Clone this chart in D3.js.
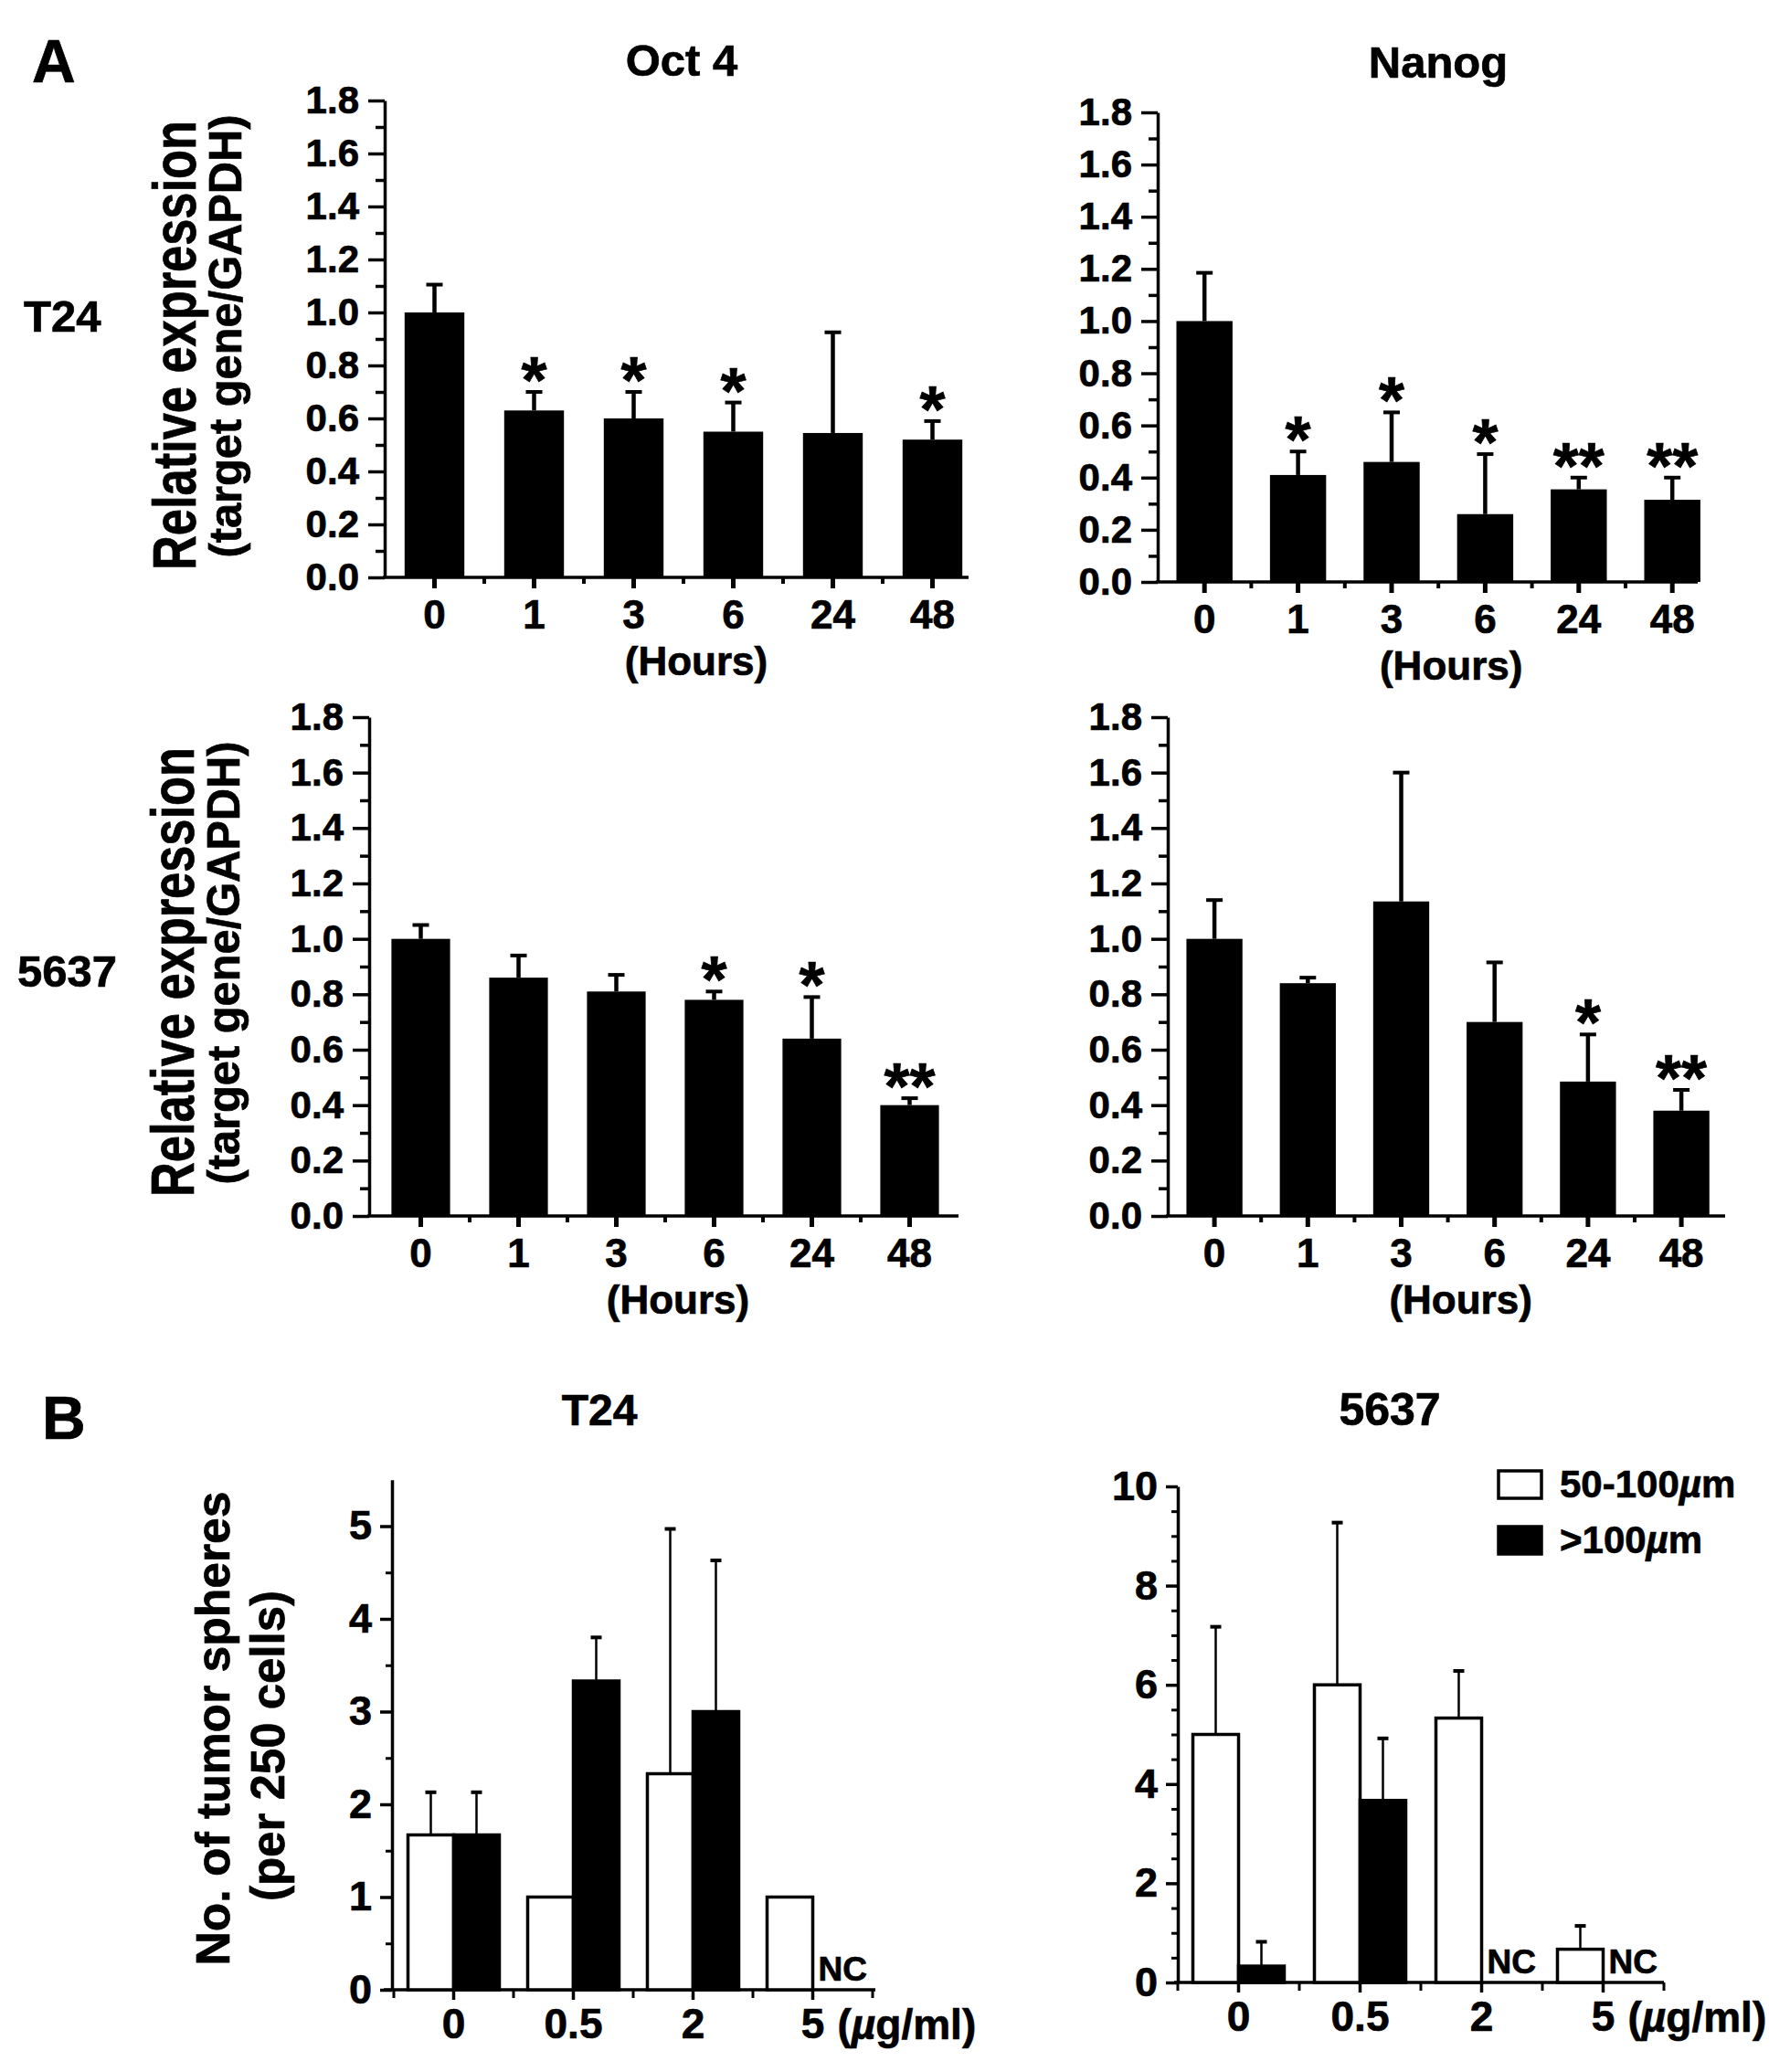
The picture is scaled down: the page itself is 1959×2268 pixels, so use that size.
<!DOCTYPE html>
<html>
<head>
<meta charset="utf-8">
<script src="https://d3js.org/d3.v7.min.js"></script>
<style>
body { margin: 0; background: #fff; }
text { font-family: "Liberation Sans", Arial, Helvetica, sans-serif; font-weight: bold; fill: #000; stroke: #000; stroke-width: 0.7px; }
</style>
</head>
<body>
<script>
// ---- data ----
const hours = ["0", "1", "3", "6", "24", "48"];
const yTicksA = [0.0, 0.2, 0.4, 0.6, 0.8, 1.0, 1.2, 1.4, 1.6, 1.8];
const yMinorA = [0.1, 0.3, 0.5, 0.7, 0.9, 1.1, 1.3, 1.5, 1.7];

// panel A, T24
const oct4T24 = [1.00, 0.63, 0.60, 0.55, 0.545, 0.52];
const oct4T24Sd = [0.105, 0.07, 0.10, 0.11, 0.38, 0.07];
const oct4T24Stars = ["", "*", "*", "*", "", "*"];
const nanogT24 = [1.00, 0.41, 0.46, 0.26, 0.355, 0.315];
const nanogT24Sd = [0.185, 0.09, 0.19, 0.23, 0.045, 0.085];
const nanogT24Stars = ["", "*", "*", "*", "**", "**"];

// panel A, 5637
const oct4_5637 = [1.00, 0.86, 0.81, 0.78, 0.64, 0.40];
const oct4_5637Sd = [0.05, 0.08, 0.06, 0.03, 0.15, 0.025];
const oct4_5637Stars = ["", "", "", "*", "*", "**"];
const nanog5637 = [1.00, 0.84, 1.135, 0.70, 0.485, 0.38];
const nanog5637Sd = [0.14, 0.02, 0.465, 0.215, 0.17, 0.075];
const nanog5637Stars = ["", "", "", "", "*", "**"];

// panel B
const doses = ["0", "0.5", "2", "5"];
const sizeGroups = ["50-100", ">100"];
const t24Small = [1.67, 1.00, 2.33, 1.00];
const t24SmallSd = [0.46, 0, 2.64, 0];
const t24Large = [1.67, 3.33, 3.00, null];
const t24LargeSd = [0.46, 0.47, 1.63, 0];
const c5637Small = [5.00, 6.00, 5.33, 0.67];
const c5637SmallSd = [2.17, 3.27, 0.95, 0.47];
const c5637Large = [0.33, 3.67, null, null];
const c5637LargeSd = [0.49, 1.25, 0, 0];
const yTicksT24 = [0, 1, 2, 3, 4, 5];
const yMinorT24 = [0.5, 1.5, 2.5, 3.5, 4.5];
const yTicks5637 = [0, 2, 4, 6, 8, 10];
const yMinor5637 = d3.range(0.5, 10, 0.5).filter(v => v % 2 !== 0);

const svg = d3.select("body").append("svg")
  .attr("width", 1959)
  .attr("height", 2268);

function styleAxis(g, w, fs) {
  g.selectAll("line").attr("stroke", "#000").attr("stroke-width", w);
  g.selectAll("path").attr("stroke", "#000").attr("stroke-width", w);
  g.selectAll("text").style("font-size", fs + "px").attr("fill", "#000");
}

// one bar panel of part A
function panelA(o) {
  const y = d3.scaleLinear().domain([0, 1.8]).range([o.bottom, o.top]);
  const x = d3.scaleBand().domain(hours)
    .range([o.bandStart, o.bandStart + o.step * hours.length])
    .paddingInner(0.4).paddingOuter(0.2);
  const cx = d => x(d) + x.bandwidth() / 2;
  const rows = hours.map((h, i) => ({ h: h, v: o.values[i], sd: o.sd[i], star: o.stars[i] }));
  const g = svg.append("g");

  g.selectAll("rect.bar").data(rows).enter().append("rect")
    .attr("x", d => x(d.h))
    .attr("y", d => y(d.v))
    .attr("width", x.bandwidth())
    .attr("height", d => y(0) - y(d.v))
    .attr("fill", "#000");

  // error bars (upper only)
  g.selectAll("line.err").data(rows).enter().append("line")
    .attr("x1", d => cx(d.h)).attr("x2", d => cx(d.h))
    .attr("y1", d => y(d.v)).attr("y2", d => y(d.v + d.sd))
    .attr("stroke", "#000").attr("stroke-width", 4.5);
  g.selectAll("line.cap").data(rows).enter().append("line")
    .attr("x1", d => cx(d.h) - 9).attr("x2", d => cx(d.h) + 9)
    .attr("y1", d => y(d.v + d.sd)).attr("y2", d => y(d.v + d.sd))
    .attr("stroke", "#000").attr("stroke-width", 4);

  g.selectAll("text.star").data(rows.filter(d => d.star)).enter().append("text")
    .attr("x", d => cx(d.h))
    .attr("y", d => y(d.v + d.sd) + 12)
    .attr("text-anchor", "middle")
    .style("font-size", "72px")
    .text(d => d.star);

  // y axis
  const ya = g.append("g").attr("transform", `translate(${o.left},0)`)
    .call(d3.axisLeft(y).tickValues(yTicksA).tickFormat(d3.format(".1f"))
      .tickSize(18).tickSizeOuter(0).tickPadding(10));
  styleAxis(ya, 3.5, 42);
  const ym = g.append("g").attr("transform", `translate(${o.left},0)`)
    .call(d3.axisLeft(y).tickValues(yMinorA).tickFormat("").tickSize(10).tickSizeOuter(0));
  ym.select(".domain").remove();
  styleAxis(ym, 3.5, 42);

  // x axis
  const xa = g.append("g").attr("transform", `translate(0,${o.bottom})`)
    .call(d3.axisBottom(x).tickSize(12).tickPadding(13).tickSizeOuter(0));
  xa.select(".domain").remove();
  styleAxis(xa, 5, 44);
  g.append("line")
    .attr("x1", o.left - 2).attr("x2", o.end)
    .attr("y1", o.bottom).attr("y2", o.bottom)
    .attr("stroke", "#000").attr("stroke-width", 3.5);
  const mids = hours.slice(1).map((h, i) => (cx(hours[i]) + cx(h)) / 2);
  g.selectAll("line.xminor").data(mids).enter().append("line")
    .attr("x1", d => d).attr("x2", d => d)
    .attr("y1", o.bottom).attr("y2", o.bottom + 7)
    .attr("stroke", "#000").attr("stroke-width", 4);

  g.append("text")
    .attr("x", (cx(hours[0]) + cx(hours[hours.length - 1])) / 2 + 14)
    .attr("y", o.bottom + 107)
    .attr("text-anchor", "middle")
    .style("font-size", "44px")
    .text("(Hours)");
}

// one grouped panel of part B
function panelB(o) {
  const y = d3.scaleLinear().domain([0, o.ymax]).range([o.bottom, o.top]);
  const x = d3.scaleBand().domain(doses).range([o.bandStart, o.bandEnd]);
  const x1 = d3.scaleBand().domain(sizeGroups).range([-50, 50]);
  const cx = d => x(d) + x.bandwidth() / 2;
  const g = svg.append("g");
  const rows = [];
  doses.forEach((d, i) => {
    rows.push({ dose: d, grp: sizeGroups[0], v: o.small[i], sd: o.smallSd[i] });
    rows.push({ dose: d, grp: sizeGroups[1], v: o.large[i], sd: o.largeSd[i] });
  });
  const drawn = rows.filter(r => r.v !== null);

  // x axis line under the bars
  g.append("line")
    .attr("x1", o.axisStart).attr("x2", o.axisEnd)
    .attr("y1", o.bottom).attr("y2", o.bottom)
    .attr("stroke", "#000").attr("stroke-width", 3.5);

  g.selectAll("rect.bar").data(drawn).enter().append("rect")
    .attr("x", d => cx(d.dose) + x1(d.grp))
    .attr("y", d => y(d.v))
    .attr("width", x1.bandwidth())
    .attr("height", d => y(0) - y(d.v))
    .attr("fill", d => d.grp === sizeGroups[0] ? "#fff" : "#000")
    .attr("stroke", "#000").attr("stroke-width", 3.5);

  const withErr = drawn.filter(d => d.sd > 0);
  const ex = d => cx(d.dose) + x1(d.grp) + x1.bandwidth() / 2;
  g.selectAll("line.err").data(withErr).enter().append("line")
    .attr("x1", ex).attr("x2", ex)
    .attr("y1", d => y(d.v)).attr("y2", d => y(d.v + d.sd))
    .attr("stroke", "#000").attr("stroke-width", 2.5);
  g.selectAll("line.cap").data(withErr).enter().append("line")
    .attr("x1", d => ex(d) - 6).attr("x2", d => ex(d) + 6)
    .attr("y1", d => y(d.v + d.sd)).attr("y2", d => y(d.v + d.sd))
    .attr("stroke", "#000").attr("stroke-width", 4);

  g.selectAll("text.nc").data(rows.filter(r => r.v === null)).enter().append("text")
    .attr("x", d => cx(d.dose) + 6)
    .attr("y", o.bottom - 10)
    .style("font-size", "37px")
    .text("NC");

  const ya = g.append("g").attr("transform", `translate(${o.left},0)`)
    .call(d3.axisLeft(y).tickValues(o.yTicks).tickFormat(d3.format("d"))
      .tickSize(13).tickSizeOuter(0).tickPadding(9));
  styleAxis(ya, 3.5, 45);
  const ym = g.append("g").attr("transform", `translate(${o.left},0)`)
    .call(d3.axisLeft(y).tickValues(o.yMinor).tickFormat("").tickSize(7).tickSizeOuter(0));
  ym.select(".domain").remove();
  styleAxis(ym, 3, 45);

  const xa = g.append("g").attr("transform", `translate(0,${o.bottom})`)
    .call(d3.axisBottom(x).tickValues(doses).tickSize(11).tickPadding(9).tickSizeOuter(0));
  xa.select(".domain").remove();
  styleAxis(xa, 3.5, 46);
  const bounds = doses.map(d => x(d)).concat([o.bandEnd]);
  g.selectAll("line.xminor").data(bounds).enter().append("line")
    .attr("x1", d => d).attr("x2", d => d)
    .attr("y1", o.bottom).attr("y2", o.bottom + 9)
    .attr("stroke", "#000").attr("stroke-width", 3);

  const unit = g.append("text")
    .attr("x", cx(doses[doses.length - 1]) + 27)
    .attr("y", o.bottom + 54)
    .style("font-size", "46px");
  unit.append("tspan").text("(");
  unit.append("tspan").style("font-style", "italic").text("\u00b5");
  unit.append("tspan").text("g/ml)");
}

panelA({ left: 421, end: 1060, bottom: 632, top: 110, bandStart: 421, step: 109,
  values: oct4T24, sd: oct4T24Sd, stars: oct4T24Stars });
panelA({ left: 1267, end: 1858, bottom: 637, top: 123, bandStart: 1267, step: 102.4,
  values: nanogT24, sd: nanogT24Sd, stars: nanogT24Stars });
panelA({ left: 404, end: 1049, bottom: 1331, top: 785, bandStart: 407, step: 107,
  values: oct4_5637, sd: oct4_5637Sd, stars: oct4_5637Stars });
panelA({ left: 1278, end: 1888, bottom: 1331, top: 785, bandStart: 1278, step: 102.2,
  values: nanog5637, sd: nanog5637Sd, stars: nanog5637Stars });

panelB({ left: 429, axisStart: 420, axisEnd: 958, bandStart: 431, bandEnd: 955,
  bottom: 2178, top: 2178 - 5.5 * 101.5, ymax: 5.5, yTicks: yTicksT24, yMinor: yMinorT24,
  small: t24Small, smallSd: t24SmallSd, large: t24Large, largeSd: t24LargeSd });
panelB({ left: 1289, axisStart: 1285, axisEnd: 1821, bandStart: 1289, bandEnd: 1821,
  bottom: 2170, top: 1627, ymax: 10, yTicks: yTicks5637, yMinor: yMinor5637,
  small: c5637Small, smallSd: c5637SmallSd, large: c5637Large, largeSd: c5637LargeSd });

// ---- labels ----
function label(x, y, s, txt, anchor) {
  return svg.append("text").attr("x", x).attr("y", y)
    .attr("text-anchor", anchor || "start")
    .style("font-size", s + "px").text(txt);
}
label(35, 90, 66, "A");
label(46, 1575, 66, "B");
label(746, 83, 49, "Oct 4", "middle");
label(1574, 85, 49, "Nanog", "middle");
label(26, 363, 49, "T24");
label(19, 1080, 49, "5637");
label(656, 1560, 48, "T24", "middle");
label(1521, 1560, 50, "5637", "middle");

function vlabel(x, cy, s, len, txt) {
  svg.append("text")
    .attr("transform", `translate(${x},${cy}) rotate(-90)`)
    .attr("text-anchor", "middle")
    .attr("textLength", len)
    .attr("lengthAdjust", "spacingAndGlyphs")
    .style("font-size", s + "px")
    .text(txt);
}
vlabel(214, 378, 66, 492, "Relative expression");
vlabel(264, 368, 50, 485, "(target gene/GAPDH)");
vlabel(212, 1064, 66, 492, "Relative expression");
vlabel(262, 1054, 50, 485, "(target gene/GAPDH)");
vlabel(251, 1892, 52, 519, "No. of tumor spheres");
vlabel(311, 1911, 52, 340, "(per 250 cells)");

// legend
const legend = svg.append("g");
const legendRows = [{ fill: "#fff", pre: "50-100" }, { fill: "#000", pre: ">100" }];
legendRows.forEach((r, i) => {
  legend.append("rect").attr("x", 1640).attr("y", 1610 + i * 61)
    .attr("width", 47).attr("height", 30)
    .attr("fill", r.fill).attr("stroke", "#000").attr("stroke-width", 3.5);
  const t = legend.append("text").attr("x", 1707).attr("y", 1639 + i * 61)
    .style("font-size", "42px");
  t.append("tspan").text(r.pre);
  t.append("tspan").style("font-style", "italic").text("\u00b5");
  t.append("tspan").text("m");
});
</script>
</body>
</html>
